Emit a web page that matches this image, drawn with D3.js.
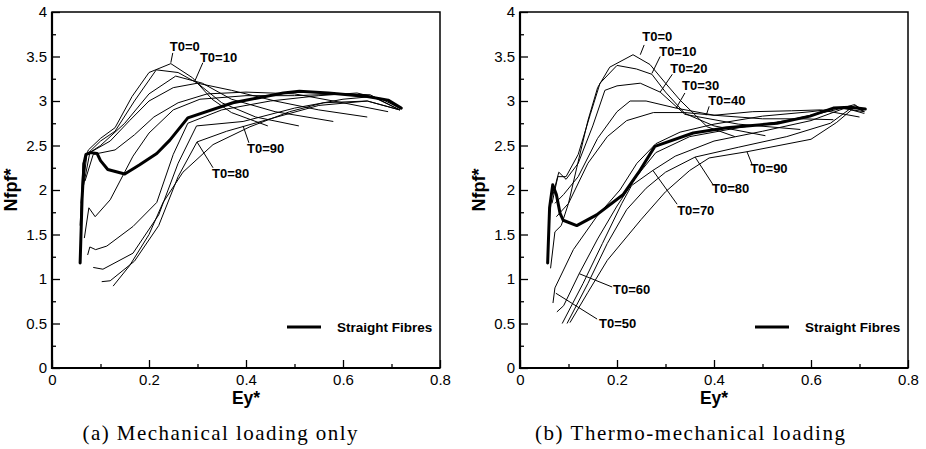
<!DOCTYPE html>
<html>
<head>
<meta charset="utf-8">
<script src="https://cdn.jsdelivr.net/npm/d3@7"></script>
<style>
  body { margin:0; background:#fff; }
  svg { display:block; }
</style>
</head>
<body>
<div class="fig"></div>
<script>
// curve values (Ey*, Nfpf*)
const eyMajor = [0, 0.2, 0.4, 0.6, 0.8]
const eyMinor = [0.1, 0.3, 0.5, 0.7]
const nfMajor = [0, 0.5, 1, 1.5, 2, 2.5, 3, 3.5, 4]
const nfMinor = [0.25, 0.75, 1.25, 1.75, 2.25, 2.75, 3.25, 3.75]
const angles = ["T0=0","T0=10","T0=20","T0=30","T0=40","T0=50","T0=60","T0=70","T0=80","T0=90"]

// (a) mechanical loading only
const mechCurves = [
  [[0.058,1.6],[0.064,2.3],[0.075,2.45],[0.1,2.58],[0.13,2.7],[0.165,3.05],[0.2,3.32],[0.245,3.42],[0.29,3.26],[0.33,3.02],[0.37,2.87],[0.445,2.72]],
  [[0.06,1.85],[0.068,2.38],[0.1,2.55],[0.13,2.66],[0.17,3.0],[0.215,3.35],[0.26,3.32],[0.3,3.2],[0.35,2.98],[0.42,2.82],[0.509,2.72]],
  [[0.062,1.95],[0.072,2.4],[0.1,2.5],[0.15,2.75],[0.2,3.08],[0.255,3.28],[0.31,3.2],[0.37,3.02],[0.46,2.88],[0.58,2.77]],
  [[0.065,2.05],[0.078,2.42],[0.12,2.55],[0.16,2.78],[0.2,3.0],[0.25,3.15],[0.3,3.2],[0.37,3.12],[0.46,3.0],[0.55,2.9],[0.65,2.82]],
  [[0.068,2.1],[0.085,2.4],[0.13,2.45],[0.17,2.62],[0.21,2.82],[0.26,2.98],[0.32,3.08],[0.4,3.1],[0.5,3.08],[0.6,2.98],[0.693,2.88]],
  [[0.0667,1.46],[0.076,1.8],[0.089,1.7],[0.12,1.89],[0.167,2.38],[0.2,2.64],[0.25,2.9],[0.305,3.02],[0.4,3.06],[0.5,3.06],[0.6,3.08],[0.656,3.07],[0.717,2.9]],
  [[0.0735,1.27],[0.078,1.36],[0.09,1.33],[0.113,1.37],[0.167,1.59],[0.216,1.86],[0.25,2.4],[0.28,2.75],[0.35,2.9],[0.45,3.0],[0.55,3.06],[0.629,3.09],[0.68,3.02],[0.717,2.92]],
  [[0.085,1.13],[0.105,1.11],[0.167,1.29],[0.22,1.72],[0.26,2.3],[0.298,2.72],[0.394,2.77],[0.5,2.92],[0.6,3.02],[0.66,3.05],[0.717,2.9]],
  [[0.1025,0.97],[0.12,0.98],[0.17,1.2],[0.22,1.6],[0.26,2.15],[0.299,2.54],[0.36,2.66],[0.45,2.8],[0.55,2.95],[0.65,3.0],[0.717,2.9]],
  [[0.126,0.92],[0.16,1.15],[0.2,1.5],[0.229,1.86],[0.27,2.2],[0.332,2.51],[0.408,2.71],[0.49,2.88],[0.56,2.98],[0.65,3.0],[0.717,2.9]]
]
const mechStraight = [[0.058,1.18],[0.062,1.9],[0.066,2.3],[0.07,2.4],[0.08,2.42],[0.093,2.41],[0.1,2.33],[0.115,2.23],[0.15,2.18],[0.18,2.28],[0.216,2.41],[0.243,2.56],[0.28,2.81],[0.373,2.98],[0.477,3.09],[0.51,3.11],[0.57,3.09],[0.65,3.05],[0.693,3.01],[0.72,2.92]]
// label text [x, y], leader from curve [x1, y1] to [x2, y2]
const mechLabels = [
  {t:"T0=0",  x:0.243, y:3.56, x1:0.245, y1:3.43, x2:0.249, y2:3.54},
  {t:"T0=10", x:0.305, y:3.44, x1:0.295, y1:3.23, x2:0.311, y2:3.43},
  {t:"T0=90", x:0.402, y:2.42, x1:0.394, y1:2.72, x2:0.406, y2:2.53},
  {t:"T0=80", x:0.33,  y:2.14, x1:0.299, y1:2.54, x2:0.332, y2:2.25}
]

// (b) thermo-mechanical loading
const thermCurves = [
  [[0.063,1.12],[0.072,1.53],[0.085,1.6],[0.1,1.85],[0.117,2.25],[0.14,2.78],[0.16,3.15],[0.185,3.38],[0.233,3.52],[0.268,3.41],[0.3,3.2],[0.33,3.01],[0.386,2.71],[0.443,2.6]],
  [[0.066,1.85],[0.078,2.15],[0.095,2.15],[0.12,2.4],[0.145,2.85],[0.165,3.2],[0.2,3.4],[0.24,3.36],[0.272,3.3],[0.3,3.1],[0.34,2.86],[0.4,2.72],[0.506,2.61]],
  [[0.068,1.95],[0.08,2.2],[0.095,2.12],[0.12,2.3],[0.15,2.72],[0.175,3.12],[0.2,3.17],[0.248,3.2],[0.289,3.1],[0.34,2.85],[0.45,2.74],[0.578,2.68]],
  [[0.072,1.85],[0.09,1.95],[0.12,2.15],[0.16,2.58],[0.2,2.88],[0.227,3.0],[0.26,3.0],[0.322,2.92],[0.4,2.84],[0.5,2.8],[0.58,2.8],[0.646,2.79]],
  [[0.075,1.7],[0.1,1.85],[0.14,2.3],[0.18,2.6],[0.22,2.78],[0.275,2.87],[0.34,2.87],[0.4,2.84],[0.48,2.88],[0.56,2.89],[0.62,2.9],[0.66,2.86],[0.7,2.82]],
  [[0.068,0.73],[0.072,0.9],[0.11,1.33],[0.158,1.7],[0.206,2.0],[0.241,2.3],[0.28,2.52],[0.33,2.65],[0.4,2.74],[0.5,2.83],[0.6,2.88],[0.66,2.92],[0.71,2.88]],
  [[0.076,0.63],[0.09,0.7],[0.122,1.06],[0.16,1.45],[0.2,1.82],[0.24,2.15],[0.28,2.42],[0.35,2.6],[0.45,2.7],[0.55,2.78],[0.65,2.9],[0.69,2.96],[0.71,2.88]],
  [[0.087,0.5],[0.13,0.95],[0.17,1.4],[0.21,1.85],[0.23,2.05],[0.274,2.22],[0.32,2.38],[0.4,2.55],[0.5,2.66],[0.6,2.78],[0.67,2.92],[0.71,2.86]],
  [[0.097,0.5],[0.14,0.95],[0.18,1.4],[0.22,1.78],[0.26,2.02],[0.3,2.2],[0.361,2.37],[0.45,2.48],[0.55,2.6],[0.64,2.75],[0.69,2.95],[0.71,2.9]],
  [[0.103,0.51],[0.14,0.85],[0.18,1.21],[0.25,1.67],[0.3,1.98],[0.35,2.22],[0.39,2.36],[0.468,2.43],[0.6,2.57],[0.653,2.76],[0.69,2.93],[0.71,2.88]]
]
const thermStraight = [[0.057,1.18],[0.061,1.8],[0.0675,2.06],[0.075,1.95],[0.0825,1.74],[0.089,1.66],[0.117,1.6],[0.158,1.72],[0.213,1.95],[0.245,2.2],[0.278,2.49],[0.357,2.64],[0.426,2.7],[0.53,2.75],[0.598,2.83],[0.646,2.92],[0.68,2.93],[0.712,2.91]]
const thermLabels = [
  {t:"T0=0",  x:0.252, y:3.67, x1:0.248, y1:3.52, x2:0.256, y2:3.63},
  {t:"T0=10", x:0.287, y:3.51, x1:0.272, y1:3.31, x2:0.289, y2:3.5},
  {t:"T0=20", x:0.31,  y:3.31, x1:0.289, y1:3.1,  x2:0.314, y2:3.3},
  {t:"T0=30", x:0.334, y:3.12, x1:0.322, y1:2.92, x2:0.34,  y2:3.09},
  {t:"T0=40", x:0.388, y:2.95, x1:0.384, y1:2.84, x2:0.39,  y2:2.94},
  {t:"T0=90", x:0.475, y:2.19, x1:0.468, y1:2.43, x2:0.479, y2:2.28},
  {t:"T0=80", x:0.396, y:1.97, x1:0.361, y1:2.37, x2:0.398, y2:2.06},
  {t:"T0=70", x:0.324, y:1.72, x1:0.274, y1:2.22, x2:0.324, y2:1.84},
  {t:"T0=60", x:0.192, y:0.83, x1:0.122, y1:1.06, x2:0.19,  y2:0.91},
  {t:"T0=50", x:0.163, y:0.45, x1:0.074, y1:0.84, x2:0.159, y2:0.55}
]

const W = 926, H = 449
const plotTop = 12, plotBottom = 368
const svg = d3.select(".fig").append("svg").attr("width",W).attr("height",H)

const panels = [
  {left:52,  right:440, curves:mechCurves,  straight:mechStraight,  labels:mechLabels,
   caption:"(a) Mechanical loading only", capX:220, capLen:275},
  {left:520, right:908, curves:thermCurves, straight:thermStraight, labels:thermLabels,
   caption:"(b) Thermo-mechanical loading", capX:690, capLen:310}
]

const sans = "'Liberation Sans', Arial, Helvetica, sans-serif"

panels.forEach(p => {
  const x = d3.scaleLinear().domain([0,0.8]).range([p.left,p.right])
  const y = d3.scaleLinear().domain([0,4]).range([plotBottom,plotTop])
  const g = svg.append("g")
  const line = d3.line().x(d=>x(d[0])).y(d=>y(d[1]))

  // thin T0 curves
  g.selectAll("path.t0").data(p.curves).enter().append("path").attr("class","t0")
   .attr("d", line).attr("fill","none").attr("stroke","#000").attr("stroke-width",1)
   .attr("stroke-linejoin","round").attr("data-name",(d,i)=>angles[i])

  // straight fibres
  g.append("path").attr("d", line(p.straight)).attr("fill","none").attr("stroke","#000")
   .attr("stroke-width",3).attr("stroke-linejoin","round").attr("stroke-linecap","round")

  // leader lines + labels
  g.selectAll("line.lead").data(p.labels).enter().append("line").attr("class","lead")
   .attr("x1",d=>x(d.x1)).attr("y1",d=>y(d.y1)).attr("x2",d=>x(d.x2)).attr("y2",d=>y(d.y2))
   .attr("stroke","#000").attr("stroke-width",1)
  g.selectAll("text.lab").data(p.labels).enter().append("text").attr("class","lab")
   .attr("x",d=>x(d.x)).attr("y",d=>y(d.y)).text(d=>d.t)
   .attr("font-family",sans).attr("font-weight","bold").attr("font-size",13)

  // axes: inward ticks
  const xAx = g.append("g").attr("transform",`translate(0,${plotBottom})`)
   .call(d3.axisBottom(x).tickValues(eyMajor).tickSizeInner(-8).tickSizeOuter(0).tickPadding(8)
     .tickFormat(d=>d===0?"0":d3.format(".1f")(d)))
  const xMin = g.append("g").attr("transform",`translate(0,${plotBottom})`)
   .call(d3.axisBottom(x).tickValues(eyMinor).tickSizeInner(-4).tickSizeOuter(0).tickFormat(""))
  const yAx = g.append("g").attr("transform",`translate(${p.left},0)`)
   .call(d3.axisLeft(y).tickValues(nfMajor).tickSizeInner(-8).tickSizeOuter(0).tickPadding(5)
     .tickFormat(d=>d3.format("")(d)))
  const yMin = g.append("g").attr("transform",`translate(${p.left},0)`)
   .call(d3.axisLeft(y).tickValues(nfMinor).tickSizeInner(-4).tickSizeOuter(0).tickFormat(""))
  ;[xAx,xMin,yAx,yMin].forEach(a => {
    a.select(".domain").remove()
    a.selectAll(".tick line").attr("stroke","#000").attr("stroke-width",1.3)
    a.selectAll("text").attr("font-family",sans).attr("font-size",15).attr("fill","#000")
  })
  xAx.selectAll("text").attr("dy",null).attr("y",17)

  // frame
  g.append("rect").attr("x",p.left).attr("y",plotTop).attr("width",p.right-p.left).attr("height",plotBottom-plotTop)
   .attr("fill","none").attr("stroke","#000").attr("stroke-width",1.5)
  g.append("path").attr("d",`M${p.left},${plotTop}V${plotBottom}H${p.right}`)
   .attr("fill","none").attr("stroke","#000").attr("stroke-width",2.2)

  // axis titles
  g.append("text").attr("x",(p.left+p.right)/2).attr("y",404).attr("text-anchor","middle")
   .attr("font-family",sans).attr("font-weight","bold").attr("font-size",17.5).text("Ey*")
  g.append("text").attr("transform",`translate(${p.left-35},${(plotTop+plotBottom)/2}) rotate(-90)`)
   .attr("text-anchor","middle").attr("font-family",sans).attr("font-weight","bold")
   .attr("font-size",18).text("Nfpf*")

  // legend
  g.append("line").attr("x1",p.left+235).attr("x2",p.left+269).attr("y1",327).attr("y2",327)
   .attr("stroke","#000").attr("stroke-width",3)
  g.append("text").attr("x",p.left+285).attr("y",331.5).attr("font-family",sans)
   .attr("font-weight","bold").attr("font-size",13.5).text("Straight Fibres")

  // caption
  g.append("text").attr("x",p.capX).attr("y",440).attr("text-anchor","middle")
   .attr("font-family","'Liberation Serif', 'Times New Roman', serif").attr("font-size",21)
   .attr("textLength",p.capLen).attr("lengthAdjust","spacing").text(p.caption)
})
</script>
</body>
</html>
